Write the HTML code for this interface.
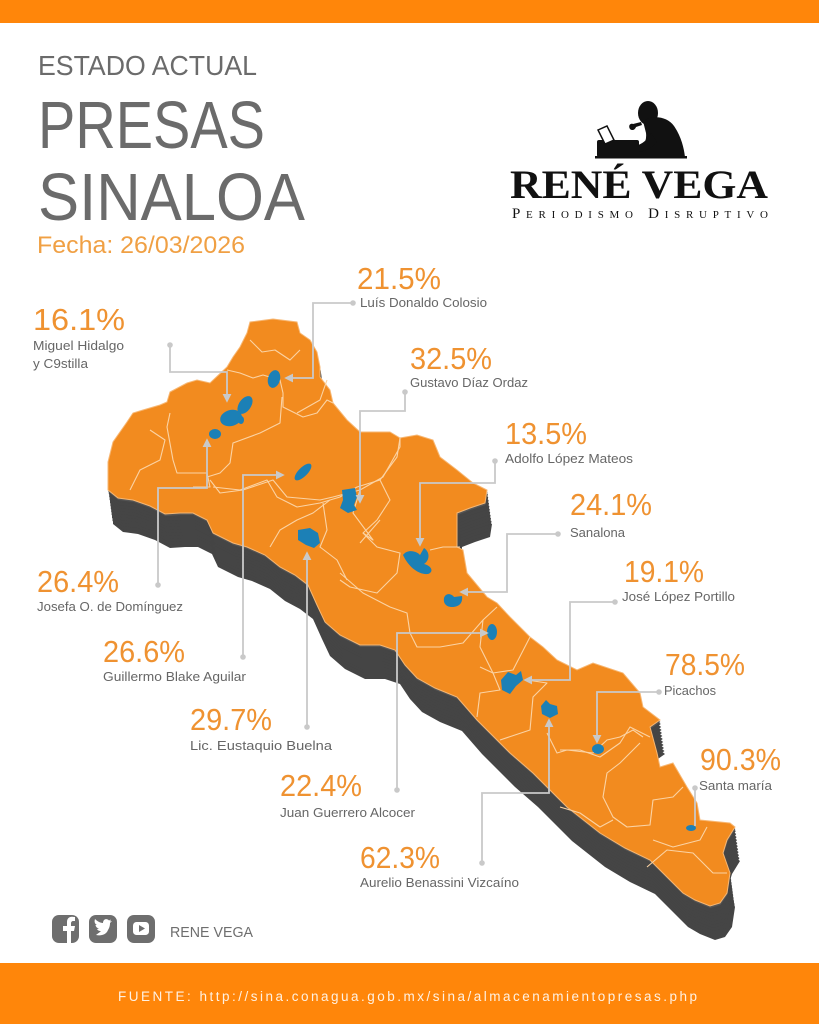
<!DOCTYPE html>
<html><head><meta charset="utf-8"><style>
html,body{margin:0;padding:0;background:#fff;}
svg{display:block;}
</style></head><body>
<svg width="819" height="1024" viewBox="0 0 819 1024" xmlns="http://www.w3.org/2000/svg" xmlns:xlink="http://www.w3.org/1999/xlink">
<defs>
<polygon id="map" points="108,462 113,442 127,422 133,413 143,410 160,405 167,402 170,392 187,383 197,380 210,383 227,367 233,357 240,347 247,333 250,322 273,319 297,322 300,333 310,340 317,352 320,367 320,377 330,390 333,403 347,420 360,432 390,432 400,438 417,435 433,440 440,457 457,470 473,483 487,490 485,503 470,508 457,513 457,547 463,550 467,573 487,597 497,603 510,617 530,637 543,647 557,660 577,670 593,663 623,673 640,693 643,707 660,720 650,727 657,753 660,767 673,763 687,787 697,803 700,820 730,823 735,827 727,840 723,853 730,873 727,893 720,903 710,906 695,900 683,893 665,875 650,860 625,848 600,833 567,807 533,773 510,753 477,720 457,697 435,688 417,678 405,665 395,650 380,645 360,645 340,635 325,622 317,605 308,585 295,575 280,567 265,555 247,547 233,543 213,533 207,520 193,513 180,513 165,514 150,506 133,500 118,498 108,490"/>
<marker id="ar" viewBox="0 0 10 10" refX="8" refY="5" markerWidth="5" markerHeight="5" orient="auto-start-reverse">
<path d="M0,0 L10,5 L0,10 z" fill="#c9c9c9"/>
</marker>
</defs>

<!-- top bar -->
<rect x="0" y="0" width="819" height="23" fill="#ff860a"/>

<!-- titles -->
<text x="38" y="75" font-family="Liberation Sans, sans-serif" font-size="28" fill="#6b6b6b" textLength="219" lengthAdjust="spacingAndGlyphs">ESTADO ACTUAL</text>
<text x="38" y="148" font-family="Liberation Sans, sans-serif" font-size="67" fill="#6b6b6b" textLength="227" lengthAdjust="spacingAndGlyphs">PRESAS</text>
<text x="38" y="220" font-family="Liberation Sans, sans-serif" font-size="67" fill="#6b6b6b" textLength="267" lengthAdjust="spacingAndGlyphs">SINALOA</text>
<text x="37" y="253" font-family="Liberation Sans, sans-serif" font-size="24" fill="#f0a044" textLength="208" lengthAdjust="spacingAndGlyphs">Fecha: 26/03/2026</text>

<!-- logo -->
<g fill="#111">
<ellipse cx="648" cy="113" rx="10" ry="12"/>
<path d="M643,121 C652,115 667,116 674,126 C681,136 684,148 685,157 L638,157 L634,150 C643,148 647,142 646,133 Z"/>
<path d="M651,133 C646,142 640,146 627,148 L626,153 C640,153 649,151 657,142 Z"/>
<path d="M641,122 L633,124 C630,123 628,126 630,129 C632,131 635,130 636,127 L642,125 Z"/>
<rect x="597" y="140" width="42" height="17" rx="2"/>
<rect x="595" y="156" width="92" height="2.5"/>
</g>
<polygon points="598,130 607,126 614,140 605,144" fill="#fff" stroke="#111" stroke-width="1.5"/>
<text x="510" y="198" font-family="Liberation Serif, serif" font-weight="bold" font-size="40" fill="#111" textLength="258" lengthAdjust="spacingAndGlyphs">RENÉ VEGA</text>
<text x="512" y="218" font-family="Liberation Serif, serif" font-size="15" fill="#111" style="font-variant:small-caps" textLength="256" lengthAdjust="spacing">Periodismo Disruptivo</text>

<!-- map extrusion -->
<g fill="#454545">
<use xlink:href="#map" transform="translate(5,34)"/>
<use xlink:href="#map" transform="translate(4.5,31)"/>
<use xlink:href="#map" transform="translate(4,28)"/>
<use xlink:href="#map" transform="translate(3.6,25)"/>
<use xlink:href="#map" transform="translate(3.2,22)"/>
<use xlink:href="#map" transform="translate(2.8,19)"/>
<use xlink:href="#map" transform="translate(2.4,16)"/>
<use xlink:href="#map" transform="translate(2,13)"/>
<use xlink:href="#map" transform="translate(1.6,10)"/>
<use xlink:href="#map" transform="translate(1.2,7)"/>
<use xlink:href="#map" transform="translate(0.8,4)"/>
<use xlink:href="#map" transform="translate(0.4,2)" fill="#555"/>
</g>
<!-- map top -->
<use xlink:href="#map" fill="#f28b1f" stroke="#f7b773" stroke-width="1"/>

<!-- district boundaries -->
<g fill="none" stroke="#fbd3a4" stroke-width="1.1" stroke-linejoin="round">
<path d="M227,370 L240,373 L253,378 L263,375 L280,380 L283,393 L283,407 L303,417 L317,413 L327,400 L333,403"/>
<path d="M282,397 L280,423 L260,433 L233,443 L230,463 L220,473 L207,477"/>
<path d="M170,413 L167,427 L173,460 L177,473 L207,473 L210,487 L193,487"/>
<path d="M210,480 L220,493 L243,490 L273,480 L287,497 L320,500 L333,497 L360,490 L383,477 L400,447 L400,437"/>
<path d="M360,490 L353,513 L373,540 L363,533"/>
<path d="M297,413 L320,400 L327,380"/>
<path d="M213,487 L240,490 L267,480 L277,497 L297,507 L320,503 L340,497 L357,487 L380,480"/>
<path d="M270,547 L280,530 L297,520 L313,513 L330,500"/>
<path d="M323,503 L327,530 L320,547 L337,560 L347,580"/>
<path d="M360,543 L380,520"/>
<path d="M400,438 L397,457 L380,480 L390,500 L377,520 L363,533 L377,547 L400,553 L397,573 L377,593 L350,587 L340,580"/>
<path d="M430,550 L443,547 L460,547"/>
<path d="M340,573 L363,593 L390,607 L407,613 L410,633 L417,647 L440,647 L463,643 L483,620 L497,607"/>
<path d="M483,620 L480,647 L493,673 L513,670 L530,637"/>
<path d="M480,667 L493,673 L500,690 L480,693 L477,717"/>
<path d="M527,680 L547,683 L533,697 L530,730 L500,740"/>
<path d="M547,733 L557,753 L567,750 L593,753 L607,740 L620,737 L633,730 L643,737"/>
<path d="M560,750 L580,750 L600,757 L620,743 L630,727 L650,737"/>
<path d="M640,743 L620,763 L607,773 L603,797 L613,817 L627,827 L650,825 L653,800 L673,797 L683,787"/>
<path d="M560,807 L580,813 L600,827 L613,820"/>
<path d="M653,840 L673,847 L700,840 L707,827"/>
<path d="M647,867 L667,850 L693,853 L713,873 L727,873"/>
<path d="M250,340 L262,352 L275,350 L290,360 L300,350"/>
<path d="M150,430 L165,440 L160,460 L140,470 L130,490"/>
</g>

<!-- lakes -->
<g fill="#1c80b6">
<ellipse cx="274" cy="379" rx="6" ry="9" transform="rotate(15 274 379)"/>
<ellipse cx="245" cy="405" rx="6" ry="10" transform="rotate(35 245 405)"/>
<ellipse cx="231" cy="418" rx="11" ry="8" transform="rotate(-15 231 418)"/>
<ellipse cx="241" cy="420" rx="3" ry="4"/>
<ellipse cx="215" cy="434" rx="6" ry="5"/>
<ellipse cx="303" cy="472" rx="11" ry="4.5" transform="rotate(-45 303 472)"/>
<path d="M342,490 L355,488 L357,497 L354,505 L357,510 L348,513 L340,508 L343,500 Z"/>
<path d="M298,530 L310,528 L318,533 L320,543 L314,548 L306,545 L298,540 Z"/>
<path d="M403,555 C408,548 418,552 420,555 L424,548 C430,552 430,560 424,564 C432,566 434,572 428,574 C418,575 408,566 403,555 Z"/>
<path d="M444,598 C446,592 452,594 454,597 L462,596 C463,602 460,607 452,607 C447,607 443,604 444,598 Z"/>
<ellipse cx="492" cy="632" rx="5" ry="8"/>
<path d="M501,680 L508,672 L516,675 L521,671 L523,680 L516,686 L510,694 L502,690 Z"/>
<path d="M541,706 L546,700 L550,704 L557,706 L558,714 L550,718 L542,714 Z"/>
<ellipse cx="598" cy="749" rx="6" ry="5"/>
<ellipse cx="691" cy="828" rx="5" ry="3"/>
</g>

<!-- leader lines -->
<g fill="none" stroke="#c9c9c9" stroke-width="1.8">
<path d="M353,303 H313 V378 H286" marker-end="url(#ar)"/>
<path d="M170,345 V372 H227 V401" marker-end="url(#ar)"/>
<path d="M405,392 V411 H360 V502" marker-end="url(#ar)"/>
<path d="M495,461 V483 H420 V545" marker-end="url(#ar)"/>
<path d="M558,534 H507 V592 H461" marker-end="url(#ar)"/>
<path d="M615,602 H570 V680 H525" marker-end="url(#ar)"/>
<path d="M659,692 H597 V742" marker-end="url(#ar)"/>
<path d="M695,788 V826"/>
<path d="M482,863 V793 H549 V720" marker-end="url(#ar)"/>
<path d="M397,790 V633 H487" marker-end="url(#ar)"/>
<path d="M307,727 V553" marker-end="url(#ar)"/>
<path d="M243,657 V475 H283" marker-end="url(#ar)"/>
<path d="M158,585 V488 H207 V440" marker-end="url(#ar)"/>
</g>
<g fill="#c9c9c9">
<circle cx="353" cy="303" r="2.8"/><circle cx="170" cy="345" r="2.8"/><circle cx="405" cy="392" r="2.8"/>
<circle cx="495" cy="461" r="2.8"/><circle cx="558" cy="534" r="2.8"/><circle cx="615" cy="602" r="2.8"/>
<circle cx="659" cy="692" r="2.8"/><circle cx="695" cy="788" r="2.8"/><circle cx="482" cy="863" r="2.8"/>
<circle cx="397" cy="790" r="2.8"/><circle cx="307" cy="727" r="2.8"/><circle cx="243" cy="657" r="2.8"/>
<circle cx="158" cy="585" r="2.8"/>
</g>

<!-- percentages -->
<g font-family="Liberation Sans, sans-serif" font-size="31" fill="#ef9231">
<text x="357" y="289" textLength="84" lengthAdjust="spacingAndGlyphs">21.5%</text>
<text x="33" y="330" textLength="92" lengthAdjust="spacingAndGlyphs">16.1%</text>
<text x="410" y="369" textLength="82" lengthAdjust="spacingAndGlyphs">32.5%</text>
<text x="505" y="444" textLength="82" lengthAdjust="spacingAndGlyphs">13.5%</text>
<text x="570" y="515" textLength="82" lengthAdjust="spacingAndGlyphs">24.1%</text>
<text x="624" y="582" textLength="80" lengthAdjust="spacingAndGlyphs">19.1%</text>
<text x="665" y="675" textLength="80" lengthAdjust="spacingAndGlyphs">78.5%</text>
<text x="700" y="770" textLength="81" lengthAdjust="spacingAndGlyphs">90.3%</text>
<text x="360" y="868" textLength="80" lengthAdjust="spacingAndGlyphs">62.3%</text>
<text x="280" y="796" textLength="82" lengthAdjust="spacingAndGlyphs">22.4%</text>
<text x="190" y="730" textLength="82" lengthAdjust="spacingAndGlyphs">29.7%</text>
<text x="103" y="662" textLength="82" lengthAdjust="spacingAndGlyphs">26.6%</text>
<text x="37" y="592" textLength="82" lengthAdjust="spacingAndGlyphs">26.4%</text>
</g>

<!-- labels -->
<g font-family="Liberation Sans, sans-serif" font-size="13" fill="#666">
<text x="360" y="307" textLength="127" lengthAdjust="spacingAndGlyphs">Luís Donaldo Colosio</text>
<text x="33" y="350" textLength="91" lengthAdjust="spacingAndGlyphs">Miguel Hidalgo</text>
<text x="33" y="368" textLength="55" lengthAdjust="spacingAndGlyphs">y C9stilla</text>
<text x="410" y="387" textLength="118" lengthAdjust="spacingAndGlyphs">Gustavo Díaz Ordaz</text>
<text x="505" y="463" textLength="128" lengthAdjust="spacingAndGlyphs">Adolfo López Mateos</text>
<text x="570" y="537" textLength="55" lengthAdjust="spacingAndGlyphs">Sanalona</text>
<text x="622" y="601" textLength="113" lengthAdjust="spacingAndGlyphs">José López Portillo</text>
<text x="664" y="695" textLength="52" lengthAdjust="spacingAndGlyphs">Picachos</text>
<text x="699" y="790" textLength="73" lengthAdjust="spacingAndGlyphs">Santa maría</text>
<text x="360" y="887" textLength="159" lengthAdjust="spacingAndGlyphs">Aurelio Benassini Vizcaíno</text>
<text x="280" y="817" textLength="135" lengthAdjust="spacingAndGlyphs">Juan Guerrero Alcocer</text>
<text x="190" y="750" textLength="142" lengthAdjust="spacingAndGlyphs">Lic. Eustaquio Buelna</text>
<text x="103" y="681" textLength="143" lengthAdjust="spacingAndGlyphs">Guillermo Blake Aguilar</text>
<text x="37" y="611" textLength="146" lengthAdjust="spacingAndGlyphs">Josefa O. de Domínguez</text>
</g>

<!-- social -->
<rect x="52" y="915" width="27" height="28" rx="7" fill="#6e6e6e"/>
<path d="M67,943 V931 H63 V926 H67 V922 C67,918 70,916 74,917 L75,917 V921 H73 C72,921 71,922 71,923 V926 H75 L74,931 H71 V943 Z" fill="#fff"/>
<rect x="89" y="915" width="28" height="28" rx="7" fill="#6e6e6e"/>
<path d="M96,935 C101,936 106,935 108,930 C110,927 110,924 110,923 L112,921 L110,921.5 L111,919.5 L109,920.5 C107,918 103,919 103,923 C100,923 97,921 95,919 C94,922 95,924 97,925 L95.5,925 C96,927 97,928 99,928.5 L97,929 C98,931 100,931 101,931 C99,933 97,934 96,935 Z" fill="#fff"/>
<rect x="127" y="915" width="28" height="28" rx="7" fill="#6e6e6e"/>
<rect x="133" y="922" width="16" height="13" rx="3.5" fill="#fff"/>
<polygon points="139,925 139,932 145,928.5" fill="#6e6e6e"/>
<text x="170" y="937" font-family="Liberation Sans, sans-serif" font-size="15" fill="#6e6e6e" textLength="83" lengthAdjust="spacingAndGlyphs">RENE VEGA</text>

<!-- footer -->
<rect x="0" y="963" width="819" height="61" fill="#ff860a"/>
<text x="118" y="1001" font-family="Liberation Sans, sans-serif" font-size="13.5" fill="#fff1e2" textLength="579" lengthAdjust="spacing">FUENTE: http://sina.conagua.gob.mx/sina/almacenamientopresas.php</text>
</svg>
</body></html>
